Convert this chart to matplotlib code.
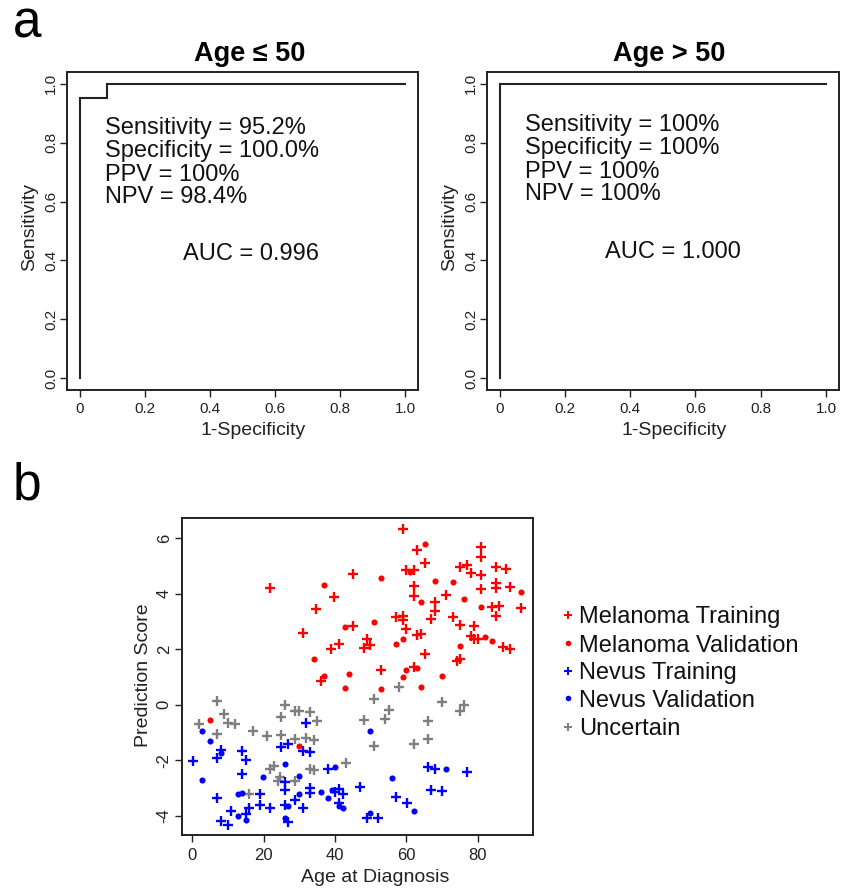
import matplotlib
matplotlib.use("Agg")
import matplotlib.pyplot as plt
from matplotlib.lines import Line2D

plt.rcParams['font.family'] = ['Liberation Sans', 'DejaVu Sans']
plt.rcParams['axes.unicode_minus'] = False

# ---------------- data ----------------
roc_titles = ["Age \u2264 50", "Age > 50"]
roc_fpr_young = [0, 0, 0.083, 0.083, 1.0]
roc_tpr_young = [0, 0.952, 0.952, 1.0, 1.0]
roc_fpr_old = [0, 0, 1.0]
roc_tpr_old = [0, 1.0, 1.0]
stats_young = ["Sensitivity = 95.2%", "Specificity = 100.0%", "PPV = 100%", "NPV = 98.4%"]
stats_old = ["Sensitivity = 100%", "Specificity = 100%", "PPV = 100%", "NPV = 100%"]
auc_young = "AUC = 0.996"
auc_old = "AUC = 1.000"
roc_xticks = [0, 0.2, 0.4, 0.6, 0.8, 1.0]
roc_xticklabels = ["0", "0.2", "0.4", "0.6", "0.8", "1.0"]
roc_yticks = [0, 0.2, 0.4, 0.6, 0.8, 1.0]
roc_yticklabels = ["0.0", "0.2", "0.4", "0.6", "0.8", "1.0"]

mel_train_age = [21.9, 44.9, 39.8, 34.8, 44.9, 30.9, 41.0, 38.9, 36.0,
                 59.0, 63.0, 81.0, 81.0, 65.1, 75.0, 77.1, 85.1, 88.0, 60.0, 62.1,
                 78.1, 81.0, 85.1, 85.1, 89.1, 62.1, 81.0, 71.1, 62.1, 68.1, 68.1,
                 84.0, 86.1, 92.1, 57.0, 59.0, 59.0, 67.0, 73.0, 85.1, 75.0, 79.1,
                 60.0, 63.0, 64.0, 48.9, 48.0, 49.9, 78.1, 79.1, 80.1, 87.0, 89.1,
                 65.1, 74.1, 75.0, 53.0, 62.1]
mel_train_score = [4.19, 4.69, 3.87, 3.43, 2.85, 2.59, 2.18, 2.00, 0.85,
                   6.31, 5.58, 5.66, 5.31, 5.10, 4.97, 5.04, 4.96, 4.88, 4.84, 4.84,
                   4.74, 4.67, 4.38, 4.21, 4.24, 4.28, 4.15, 3.96, 3.92, 3.71, 3.39,
                   3.51, 3.54, 3.49, 3.14, 3.19, 3.06, 3.08, 3.14, 3.18, 2.88, 2.83,
                   2.71, 2.50, 2.53, 2.36, 2.05, 2.15, 2.48, 2.35, 2.38, 2.07, 2.01,
                   1.82, 1.56, 1.65, 1.24, 1.34]

mel_valid_age = [36.9, 42.9, 34.0, 36.9, 43.9, 42.9,
                 65.1, 60.9, 53.0, 68.1, 73.0, 92.1, 76.1, 64.0, 81.0, 51.0, 59.0,
                 57.0, 82.1, 84.0, 75.0, 60.0, 63.0, 59.0, 70.0, 53.0, 64.0,
                 4.9, 29.9]
mel_valid_score = [4.32, 2.80, 1.65, 1.03, 1.12, 0.61,
                   5.80, 4.77, 4.55, 4.45, 4.43, 4.04, 3.80, 3.71, 3.53, 2.97, 2.38,
                   2.19, 2.42, 2.29, 2.13, 1.24, 1.32, 0.99, 1.02, 0.55, 0.63,
                   -0.54, -1.50]

nev_train_age = [31.9, 30.9, 33.0, 24.9, 26.9, 7.9, 6.9, 13.9, 14.9, 0.3, 13.9,
                 37.9, 25.9, 25.9, 33.0, 33.0, 41.0, 40.1, 42.1, 46.9, 6.9, 18.9,
                 18.9, 15.9, 21.9, 10.9, 14.9, 7.9, 9.9, 25.9, 28.9, 31.0, 26.9,
                 41.0, 66.0, 68.1, 77.1, 67.0, 70.1, 57.1, 60.1, 48.9, 52.0]
nev_train_score = [-0.67, -1.66, -1.69, -1.52, -1.42, -1.64, -1.91, -1.67, -2.00,
                   -2.03, -2.48, -2.30, -2.77, -3.08, -3.01, -3.18, -3.02, -3.16,
                   -3.23, -2.96, -3.35, -3.21, -3.62, -3.73, -3.72, -3.83, -3.95,
                   -4.20, -4.33, -3.61, -3.44, -3.73, -4.21, -3.53, -2.26, -2.32,
                   -2.44, -3.08, -3.12, -3.33, -3.55, -4.08, -4.08]

nev_valid_age = [2.8, 4.9, 7.9, 25.9, 39.9, 2.8, 19.9, 29.9, 29.9, 36.0, 39.1,
                 37.9, 12.9, 13.9, 12.9, 14.9, 26.9, 25.9, 41.0, 42.1,
                 49.9, 71.1, 56.0, 62.1, 49.9]
nev_valid_score = [-0.96, -1.32, -1.73, -2.15, -2.25, -2.72, -2.61, -2.57, -3.23,
                   -3.14, -3.08, -3.35, -3.23, -3.18, -4.02, -4.16, -3.66, -4.09,
                   -3.65, -3.73, -0.95, -2.31, -2.64, -3.83, -3.90]

unc_age = [6.95, 25.9, 8.8, 1.9, 9.9, 11.9, 24.9, 28.9, 29.9, 33.0, 34.9, 6.95,
           16.9, 20.9, 24.9, 28.9, 31.9, 34.0, 23.0, 21.9, 33.0, 34.0, 43.0, 24.6,
           23.9, 28.9, 15.9,
           51.0, 58.0, 70.0, 76.1, 75.0, 55.0, 48.0, 54.0, 66.0, 51.0, 62.1, 66.0]
unc_score = [0.14, 0.00, -0.35, -0.71, -0.66, -0.71, -0.46, -0.24, -0.24, -0.26,
             -0.59, -1.04, -0.96, -1.11, -1.08, -1.24, -1.20, -1.26, -2.21, -2.33,
             -2.32, -2.36, -2.09, -2.62, -2.74, -2.74, -3.20,
             0.22, 0.63, 0.10, -0.02, -0.24, -0.19, -0.55, -0.52, -0.60, -1.48,
             -1.41, -1.23]

group_labels = ["Melanoma Training", "Melanoma Validation", "Nevus Training",
                "Nevus Validation", "Uncertain"]
group_colors = ["#FF0000", "#FF0000", "#0000FF", "#0000FF", "#7F7F7F"]
group_markers = ["+", "o", "+", "o", "+"]
sc_xticks = [0, 20, 40, 60, 80]
sc_yticks = [-4, -2, 0, 2, 4, 6]

# ---------------- figure ----------------
W, H = 841, 888
fig = plt.figure(figsize=(W / 100, H / 100), dpi=100)

def frac_box(x0, y0, x1, y1):
    return [x0 / W, 1 - y1 / H, (x1 - x0) / W, (y1 - y0) / H]

line_col = "#222222"

def style_roc(ax):
    ax.set_xlim(-0.04, 1.04)
    ax.set_ylim(-0.04, 1.04)
    ax.set_xticks(roc_xticks)
    ax.set_xticklabels(roc_xticklabels)
    ax.set_yticks(roc_yticks)
    ax.set_yticklabels(roc_yticklabels)
    ax.tick_params(axis='both', direction='out', length=4.8, width=1.0,
                   labelsize=11, color=line_col, labelcolor="#222222")
    ax.tick_params(axis='x', pad=3.6)
    ax.tick_params(axis='y', pad=1.3, labelrotation=90)
    for lbl in ax.get_yticklabels():
        lbl.set_va('center')
    for s in ax.spines.values():
        s.set_linewidth(1.4)
        s.set_color(line_col)

roc_specs = [
    (frac_box(66.7, 72, 418, 390), roc_fpr_young, roc_tpr_young, stats_young, auc_young,
     0.078, [0.830, 0.753, 0.671, 0.594], (0.317, 0.400), 249.3 / W, 1 - 61 / H, 0.530),
    (frac_box(486.7, 72, 839, 390), roc_fpr_old, roc_tpr_old, stats_old, auc_old,
     0.076, [0.840, 0.762, 0.680, 0.606], (0.322, 0.409), 669.3 / W, 1 - 60.7 / H, 0.532),
]

for i, (box, fpr, tpr, stats, auc, tx, tys, auc_pos, titx, tity, xlab_x) in enumerate(roc_specs):
    ax = fig.add_axes(box)
    ax.plot(fpr, tpr, color=line_col, lw=1.5, solid_joinstyle='miter')
    style_roc(ax)
    for s, yy in zip(stats, tys):
        ax.text(tx, yy, s, fontsize=17, ha='left', va='baseline', color="#111111")
    ax.text(auc_pos[0], auc_pos[1], auc, fontsize=17, ha='left', va='baseline', color="#111111")
    ax.text(xlab_x, -0.1415, "1-Specificity", transform=ax.transAxes, fontsize=14,
            ha='center', va='baseline', color="#222222")
    ax.text(-0.092, 0.5135, "Sensitivity", transform=ax.transAxes, fontsize=14,
            rotation=90, rotation_mode='anchor', ha='center', va='baseline', color="#222222")
    fig.text(titx, tity, roc_titles[i], fontsize=19.5, fontweight='bold',
             ha='center', va='baseline')

# ---------------- scatter ----------------
axs = fig.add_axes(frac_box(181.7, 518.3, 533.3, 835))
groups = [
    (unc_age, unc_score, 4),
    (nev_train_age, nev_train_score, 2),
    (nev_valid_age, nev_valid_score, 3),
    (mel_train_age, mel_train_score, 0),
    (mel_valid_age, mel_valid_score, 1),
]
for xs, ys, gi in groups:
    if group_markers[gi] == '+':
        axs.plot(xs, ys, linestyle='none', marker='+', ms=7, mew=1.7,
                 color=group_colors[gi])
    else:
        axs.plot(xs, ys, linestyle='none', marker='o', ms=4.4, mew=0,
                 color=group_colors[gi])
axs.set_xlim(-3.0, 95.6)
axs.set_ylim(-4.69, 6.71)
axs.set_xticks(sc_xticks)
axs.set_yticks(sc_yticks)
axs.tick_params(axis='both', direction='out', length=4.8, width=1.0, labelsize=12,
                color=line_col, labelcolor="#222222")
axs.tick_params(axis='x', pad=4.6)
axs.tick_params(axis='y', pad=2.4, labelrotation=90)
for lbl in axs.get_yticklabels():
    lbl.set_va('center')
for s in axs.spines.values():
    s.set_linewidth(1.4)
    s.set_color(line_col)
axs.text(0.551, -0.148, "Age at Diagnosis", transform=axs.transAxes, fontsize=14,
         ha='center', va='baseline', color="#222222")
axs.text(-0.097, 0.505, "Prediction Score", transform=axs.transAxes, fontsize=14,
         rotation=90, rotation_mode='anchor', ha='center', va='baseline', color="#222222")

# legend (outside the axes, drawn in figure coordinates)
leg_y = [615, 643.3, 671, 698.3, 726.7]
for gi, yy in enumerate(leg_y):
    if group_markers[gi] == '+':
        mk = Line2D([568.3 / W], [1 - yy / H], transform=fig.transFigure, linestyle='none',
                    marker='+', ms=5.5, mew=1.4, color=group_colors[gi])
    else:
        mk = Line2D([568.3 / W], [1 - yy / H], transform=fig.transFigure, linestyle='none',
                    marker='o', ms=4, mew=0, color=group_colors[gi])
    fig.add_artist(mk)
    fig.text(579 / W, 1 - (yy + 8.3) / H, group_labels[gi], fontsize=17,
             ha='left', va='baseline', color="#111111")

# panel letters
fig.text(13 / W, 1 - 37 / H, "a", fontsize=37, ha='left', va='baseline')
fig.text(13 / W, 1 - 499.3 / H, "b", fontsize=37, ha='left', va='baseline')

fig.savefig("out.png", dpi=100)
